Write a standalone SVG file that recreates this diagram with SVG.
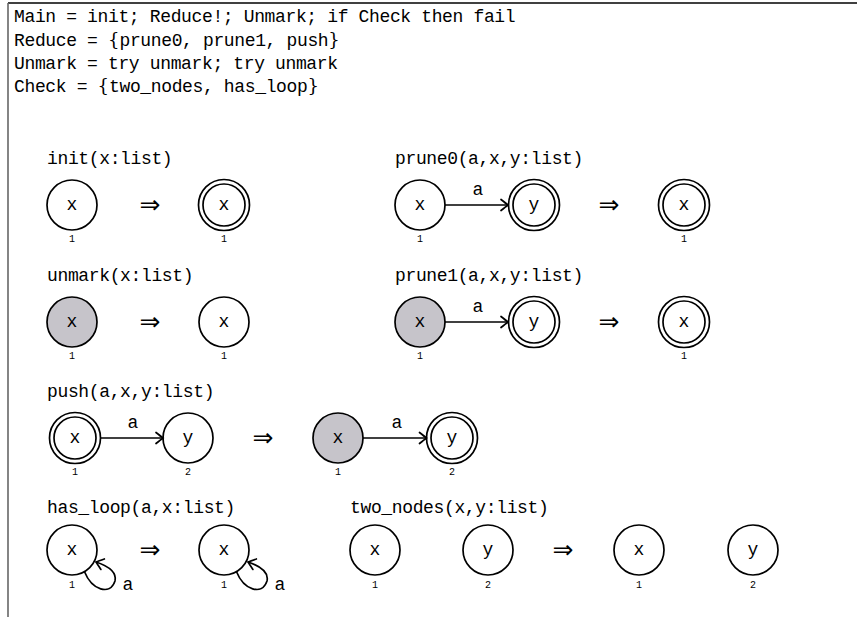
<svg xmlns="http://www.w3.org/2000/svg" width="857" height="617" viewBox="0 0 857 617">
<defs>
<style>
.t{font-family:"Liberation Mono","DejaVu Sans Mono",monospace;font-size:18px;letter-spacing:-0.36px;fill:#000}
.n{font-family:"Liberation Mono","DejaVu Sans Mono",monospace;font-size:18px;fill:#000;text-anchor:middle}
.i{font-family:"Liberation Mono","DejaVu Sans Mono",monospace;font-size:10px;fill:#000;text-anchor:middle}
.ar{font-family:"DejaVu Sans",sans-serif;font-size:25px;fill:#000;text-anchor:middle}
.br{font-family:"DejaVu Serif",serif;letter-spacing:0}
.c{fill:#fff;stroke:#000;stroke-width:1.7}
.g{fill:#c6c4ca;stroke:#000;stroke-width:1.7}
.e{fill:none;stroke:#000;stroke-width:1.7}
</style>
<marker id="ah" markerUnits="userSpaceOnUse" markerWidth="14" markerHeight="14" refX="0" refY="0" viewBox="-10 -7 12 14" orient="auto" overflow="visible">
<path d="M -7 -5.5 Q -2 -1.5 0 0 Q -2 1.5 -7 5.5" fill="none" stroke="#000" stroke-width="1.7" stroke-linecap="round"/>
</marker>
</defs>
<rect width="857" height="617" fill="#fff"/>
<g id="frame">
<line x1="8" y1="3" x2="857" y2="3" stroke="#000" stroke-width="1.6"/>
<line x1="8" y1="3" x2="8" y2="617" stroke="#666" stroke-width="1.6"/>
</g>
<g id="program">
<text class="t" x="14" y="22">Main = init; Reduce!; Unmark; if Check then fail</text>
<text class="t" x="14" y="45.5">Reduce = <tspan class="br">{</tspan>prune0, prune1, push<tspan class="br">}</tspan></text>
<text class="t" x="14" y="69">Unmark = try unmark; try unmark</text>
<text class="t" x="14" y="92">Check = <tspan class="br">{</tspan>two_nodes, has_loop<tspan class="br">}</tspan></text>
</g>
<g id="titles">
<text class="t" x="47" y="164">init(x:list)</text>
<text class="t" x="395" y="164">prune0(a,x,y:list)</text>
<text class="t" x="47" y="281">unmark(x:list)</text>
<text class="t" x="395" y="281">prune1(a,x,y:list)</text>
<text class="t" x="47" y="397">push(a,x,y:list)</text>
<text class="t" x="47" y="513">has_loop(a,x:list)</text>
<text class="t" x="350" y="513">two_nodes(x,y:list)</text>
</g>
<g id="arrows">
<text class="ar" x="150" y="213">⇒</text>
<text class="ar" x="609" y="213">⇒</text>
<text class="ar" x="150" y="330">⇒</text>
<text class="ar" x="609" y="330">⇒</text>
<text class="ar" x="263" y="446">⇒</text>
<text class="ar" x="150" y="558">⇒</text>
<text class="ar" x="563" y="558">⇒</text>
</g>
<g id="init-l"><circle class="c" cx="72" cy="205" r="25"/><text class="n" x="72" y="210">x</text><text class="i" x="72" y="242">1</text></g>
<g id="init-r"><circle class="c" cx="224" cy="205" r="25.5"/><circle class="c" cx="224" cy="205" r="21"/><text class="n" x="224" y="210">x</text><text class="i" x="224" y="242">1</text></g>
<g id="prune0-x"><circle class="c" cx="420" cy="205" r="25"/><text class="n" x="420" y="210">x</text><text class="i" x="420" y="242">1</text></g>
<g id="prune0-y"><circle class="c" cx="534" cy="205" r="25.5"/><circle class="c" cx="534" cy="205" r="21"/><text class="n" x="534" y="210">y</text></g>
<g id="prune0-r"><circle class="c" cx="684" cy="205" r="25.5"/><circle class="c" cx="684" cy="205" r="21"/><text class="n" x="684" y="210">x</text><text class="i" x="684" y="242">1</text></g>
<g id="unmark-l"><circle class="g" cx="72" cy="322" r="25"/><text class="n" x="72" y="327">x</text><text class="i" x="72" y="359">1</text></g>
<g id="unmark-r"><circle class="c" cx="224" cy="322" r="25"/><text class="n" x="224" y="327">x</text><text class="i" x="224" y="359">1</text></g>
<g id="prune1-x"><circle class="g" cx="420" cy="322" r="25"/><text class="n" x="420" y="327">x</text><text class="i" x="420" y="359">1</text></g>
<g id="prune1-y"><circle class="c" cx="534" cy="322" r="25.5"/><circle class="c" cx="534" cy="322" r="21"/><text class="n" x="534" y="327">y</text></g>
<g id="prune1-r"><circle class="c" cx="684" cy="322" r="25.5"/><circle class="c" cx="684" cy="322" r="21"/><text class="n" x="684" y="327">x</text><text class="i" x="684" y="359">1</text></g>
<g id="push-x"><circle class="c" cx="75" cy="438" r="25.5"/><circle class="c" cx="75" cy="438" r="21"/><text class="n" x="75" y="443">x</text><text class="i" x="75" y="475">1</text></g>
<g id="push-y"><circle class="c" cx="188" cy="438" r="25"/><text class="n" x="188" y="443">y</text><text class="i" x="188" y="475">2</text></g>
<g id="push-rx"><circle class="g" cx="338" cy="438" r="25"/><text class="n" x="338" y="443">x</text><text class="i" x="338" y="475">1</text></g>
<g id="push-ry"><circle class="c" cx="452" cy="438" r="25.5"/><circle class="c" cx="452" cy="438" r="21"/><text class="n" x="452" y="443">y</text><text class="i" x="452" y="475">2</text></g>
<g id="loop-l"><circle class="c" cx="72" cy="550" r="25"/><text class="n" x="72" y="555">x</text><text class="i" x="72" y="588">1</text></g>
<g id="loop-r"><circle class="c" cx="224" cy="550" r="25"/><text class="n" x="224" y="555">x</text><text class="i" x="224" y="588">1</text></g>
<g id="two-x"><circle class="c" cx="375" cy="550" r="25"/><text class="n" x="375" y="555">x</text><text class="i" x="375" y="588">1</text></g>
<g id="two-y"><circle class="c" cx="488" cy="550" r="25"/><text class="n" x="488" y="555">y</text><text class="i" x="488" y="588">2</text></g>
<g id="two-rx"><circle class="c" cx="639" cy="550" r="25"/><text class="n" x="639" y="555">x</text><text class="i" x="639" y="588">1</text></g>
<g id="two-ry"><circle class="c" cx="753" cy="550" r="25"/><text class="n" x="753" y="555">y</text><text class="i" x="753" y="588">2</text></g>
<g id="connectors">
<line class="e" x1="445" y1="205" x2="508" y2="205" marker-end="url(#ah)"/>
<text class="n" x="478" y="195">a</text>
<line class="e" x1="445" y1="322" x2="508" y2="322" marker-end="url(#ah)"/>
<text class="n" x="478" y="312">a</text>
<line class="e" x1="100.5" y1="438" x2="163" y2="438" marker-end="url(#ah)"/>
<text class="n" x="133" y="428">a</text>
<line class="e" x1="363" y1="438" x2="426.5" y2="438" marker-end="url(#ah)"/>
<text class="n" x="397" y="428">a</text>
<path class="e" d="M 84.5 571.7 C 92 590, 110 596, 115 581 C 117 572, 108 566, 96 562" marker-end="url(#ah)"/>
<text class="n" x="128" y="590">a</text>
<path class="e" d="M 236.5 571.7 C 244 590, 262 596, 267 581 C 269 572, 260 566, 248 562" marker-end="url(#ah)"/>
<text class="n" x="280" y="590">a</text>
</g>
</svg>
